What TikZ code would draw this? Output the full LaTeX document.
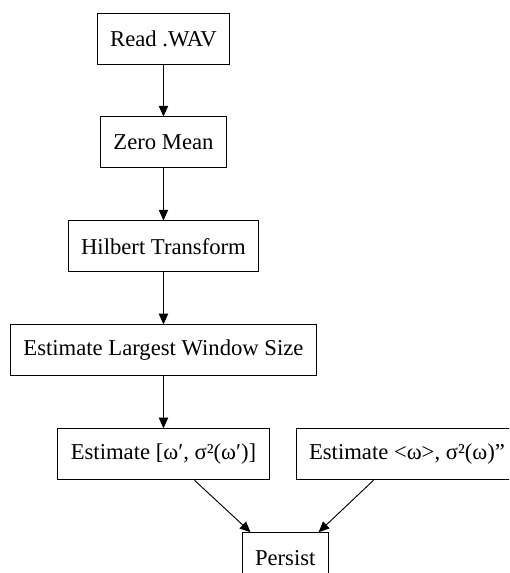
\documentclass[tikz,border=0pt]{standalone}
\usepackage{fontspec}
\setmainfont{Liberation Serif}[Ligatures=ResetAll]
\usepackage{tikz}
\usetikzlibrary{positioning, calc, arrows.meta}

\begin{document}
\begin{tikzpicture}[
        box/.style={rectangle, draw=black, line width=0.7pt, minimum height=38.25pt, inner xsep=9.75pt, align=center, font=\fontsize{17}{20}\selectfont},
        arrow/.style={-{Triangle[length=8pt, width=7pt]}, line width=0.7pt},
        node distance=39pt
    ]
        \useasboundingbox (0,0) rectangle (381.75pt,-429.75pt);
        \clip (0,0) rectangle (381.75pt,-429.75pt);
        \node[box] (READ) at (122.6pt,-28.9pt) {Read .WAV};
        \node[box, below=of READ] (ZERO) {Zero Mean};
        \node[box, below=of ZERO] (HILBERT) {Hilbert Transform};
        \node[box, below=of HILBERT] (WINDOW) {Estimate Largest Window Size};
        \node[box, below=of WINDOW] (OMEGA) {Estimate [ω′, σ²(ω′)]};
        \node[box, right=19.5pt of OMEGA] (MEAN) {Estimate <ω>, σ²(ω)"};
        \coordinate (MID) at ($(OMEGA.south)!0.5!(MEAN.south)$);
        \node[box, below=of MID] (PERSIST) {Persist};

        \draw[arrow] (READ) -- (ZERO);
        \draw[arrow] (ZERO) -- (HILBERT);
        \draw[arrow] (HILBERT) -- (WINDOW);
        \draw[arrow] (WINDOW) -- (OMEGA);
        \draw[arrow] ([xshift=23.25pt]OMEGA.south) -- ([xshift=-26pt]PERSIST.north);
        \draw[arrow] ([xshift=-25.1pt]MEAN.south) -- ([xshift=25pt]PERSIST.north);
    \end{tikzpicture}
\end{document}
